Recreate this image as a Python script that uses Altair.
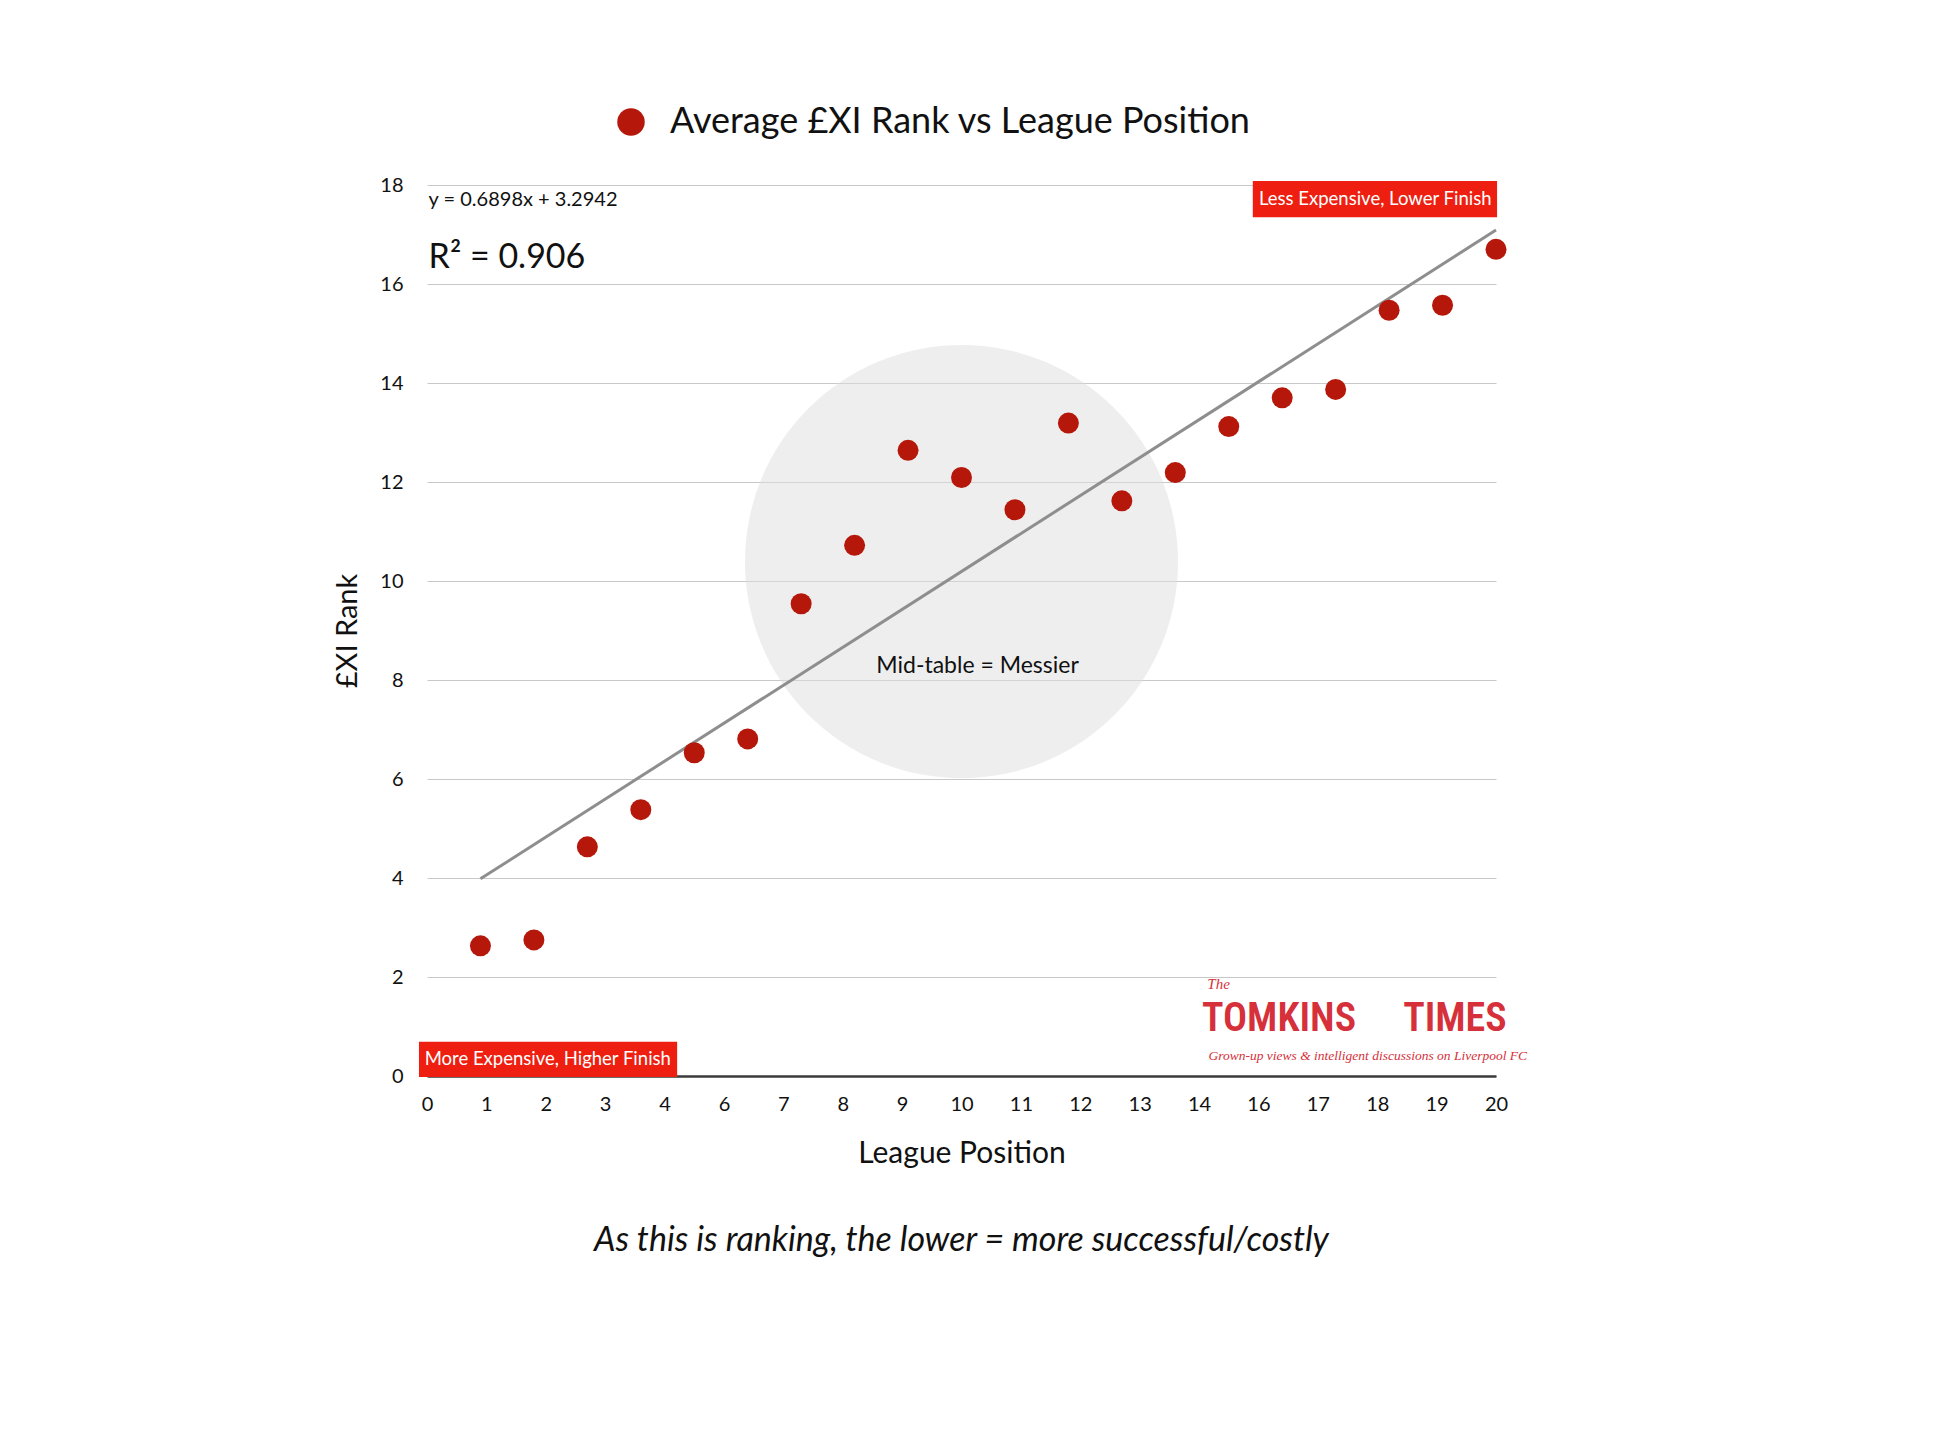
import altair as alt
import pandas as pd

# ---------------- data ----------------
league_position = list(range(1, 21))
xi_rank = [2.63, 2.75, 4.63, 5.38, 6.53, 6.81, 9.54, 10.72, 12.64, 12.09,
           11.44, 13.19, 11.62, 12.19, 13.12, 13.70, 13.87, 15.47, 15.57, 16.70]
series_name = "Average £XI Rank vs League Position"

trend_slope = 0.6898
trend_intercept = 3.2942
trend_x = [1, 20]

x_tick_values = [0, 1.111, 2.222, 3.333, 4.444, 5.556, 6.667, 7.778, 8.889, 10,
                 11.111, 12.222, 13.333, 14.444, 15.556, 16.667, 17.778, 18.889, 20]
y_tick_values = [0, 2, 4, 6, 8, 10, 12, 14, 16, 18]

# annotation anchors (data units)
circle_x, circle_y = [10.0], [10.39]
mid_label = ["Mid-table = Messier"]
mid_x, mid_y = [10.3], [8.28]
eq_label = ["y = 0.6898x + 3.2942"]
eq_x, eq_y = [0.03], [17.70]
r2_label = ["R² = 0.906"]
r2_x, r2_y = [0.03], [16.52]
box_labels = ["Less Expensive, Lower Finish", "More Expensive, Higher Finish"]
box_x1 = [15.45, -0.15]
box_x2 = [20.02, 4.68]
box_y1 = [17.35, -0.02]
box_y2 = [18.08, 0.69]
box_tx = [17.74, 2.26]
box_ty = [17.72, 0.34]
logo_words = ["TOMKINS", "TIMES"]
logo_x = [14.5, 20.2]
logo_y = [1.15, 1.15]
logo_the = ["The"]
logo_tag = ["Grown-up views & intelligent discussions on Liverpool FC"]

FONT = "Lato"
INK = "#111111"
DOT = "#B5170B"
BOXRED = "#EE1F10"
LOGORED = "#D6303A"
CONDENSED = ("Noto Sans ExtraCondensed, Noto Sans Condensed, Roboto Condensed, "
             "DejaVu Sans Condensed, Liberation Sans Narrow, Arial Narrow, sans-serif")

# ---------------- frames ----------------
pts = pd.DataFrame({"x": league_position, "y": xi_rank, "series": series_name})
trend = pd.DataFrame({"x": trend_x})
circ = pd.DataFrame({"x": circle_x, "y": circle_y})
mid = pd.DataFrame({"x": mid_x, "y": mid_y, "t": mid_label})
eq = pd.DataFrame({"x": eq_x, "y": eq_y, "t": eq_label})
r2 = pd.DataFrame({"x": r2_x, "y": r2_y, "t": r2_label})
boxes = pd.DataFrame({"x": box_x1, "x2": box_x2, "y": box_y1, "y2": box_y2})
boxt = pd.DataFrame({"x": box_tx, "y": box_ty, "t": box_labels})
logo_l = pd.DataFrame({"x": logo_x[:1], "y": logo_y[:1], "t": logo_words[:1]})
logo_r = pd.DataFrame({"x": logo_x[1:], "y": logo_y[1:], "t": logo_words[1:]})
the = pd.DataFrame({"x": [14.6], "y": [1.86], "t": logo_the})
tag = pd.DataFrame({"x": [14.62], "y": [0.40], "t": logo_tag})

x_scale = alt.Scale(domain=[0, 20], nice=False, zero=False)
y_scale = alt.Scale(domain=[0, 18], nice=False, zero=False)

x_axis = alt.Axis(values=x_tick_values, labelExpr="format(round(datum.value), 'd')",
                  title="League Position", grid=False, ticks=False, domain=True,
                  domainColor="#3a3a3a", domainWidth=2.5, labelFont=FONT,
                  labelFontSize=20, labelColor=INK, labelPadding=18, labelFlush=False,
                  titleFont=FONT, titleFontSize=30, titleFontWeight="normal",
                  titleColor=INK, titlePadding=24)
y_axis = alt.Axis(values=y_tick_values, title="£XI Rank", grid=True,
                  gridColor="#c9c9c9", gridWidth=1, ticks=False, domain=False,
                  labelFont=FONT, labelFontSize=20, labelColor=INK, labelPadding=24,
                  titleFont=FONT, titleFontSize=29, titleFontWeight="normal",
                  titleColor=INK, titlePadding=17)


def X():
    return alt.X("x:Q", scale=x_scale, axis=x_axis)


def Y():
    return alt.Y("y:Q", scale=y_scale, axis=y_axis)


circle_layer = alt.Chart(circ).mark_circle(color="#dedede", opacity=0.5, size=187500).encode(x=X(), y=Y())

trend_layer = alt.Chart(trend).transform_calculate(
    y=f"{trend_slope} * datum.x + {trend_intercept}"
).mark_line(color="#8e8e8e", strokeWidth=3).encode(x=X(), y=Y())

point_layer = alt.Chart(pts).mark_circle(size=441, opacity=1).encode(
    x=X(), y=Y(),
    color=alt.Color("series:N", scale=alt.Scale(range=[DOT]),
                    legend=alt.Legend(title=None, orient="none", legendX=186, legendY=-81,
                                      symbolSize=756, symbolType="circle",
                                      symbolStrokeWidth=0, symbolOpacity=1,
                                      labelFont=FONT, labelFontSize=36, labelColor=INK,
                                      labelOffset=21, labelLimit=1200, padding=0)),
)

mid_layer = alt.Chart(mid).mark_text(font=FONT, fontSize=23, color=INK).encode(x=X(), y=Y(), text="t:N")
eq_layer = alt.Chart(eq).mark_text(font=FONT, fontSize=20, color=INK, align="left").encode(x=X(), y=Y(), text="t:N")
r2_layer = alt.Chart(r2).mark_text(font=FONT, fontSize=34, color=INK, align="left").encode(x=X(), y=Y(), text="t:N")

box_layer = alt.Chart(boxes).mark_rect(color=BOXRED).encode(x=X(), x2="x2:Q", y=Y(), y2="y2:Q")
boxt_layer = alt.Chart(boxt).mark_text(font=FONT, fontSize=18.5, color="white").encode(x=X(), y=Y(), text="t:N")

logo_l_layer = alt.Chart(logo_l).mark_text(font=CONDENSED, fontSize=40, fontWeight=600, color=LOGORED,
                                           align="left").encode(x=X(), y=Y(), text="t:N")
logo_r_layer = alt.Chart(logo_r).mark_text(font=CONDENSED, fontSize=40, fontWeight=600, color=LOGORED,
                                           align="right").encode(x=X(), y=Y(), text="t:N")
the_layer = alt.Chart(the).mark_text(font="Liberation Serif, serif", fontStyle="italic", fontSize=15,
                                     color=LOGORED, align="left").encode(x=X(), y=Y(), text="t:N")
tag_layer = alt.Chart(tag).mark_text(font="Liberation Serif, serif", fontStyle="italic", fontSize=13.5,
                                     color=LOGORED, align="left").encode(x=X(), y=Y(), text="t:N")

chart = alt.layer(
    circle_layer, trend_layer, point_layer, mid_layer, eq_layer, r2_layer,
    box_layer, boxt_layer, logo_l_layer, logo_r_layer, the_layer, tag_layer,
).properties(
    width=1069, height=891,
    autosize=alt.AutoSizeParams(type="none"),
    padding={"left": 419, "top": 177, "right": 442, "bottom": 366},
    background="white",
    title=alt.TitleParams(text="As this is ranking, the lower = more successful/costly",
                          orient="bottom", anchor="middle", font=FONT, fontSize=34,
                          fontStyle="italic", fontWeight="normal", color=INK, offset=56),
).configure_view(stroke=None)

chart.save("out.html", embed_options={"renderer": "svg", "actions": False})
